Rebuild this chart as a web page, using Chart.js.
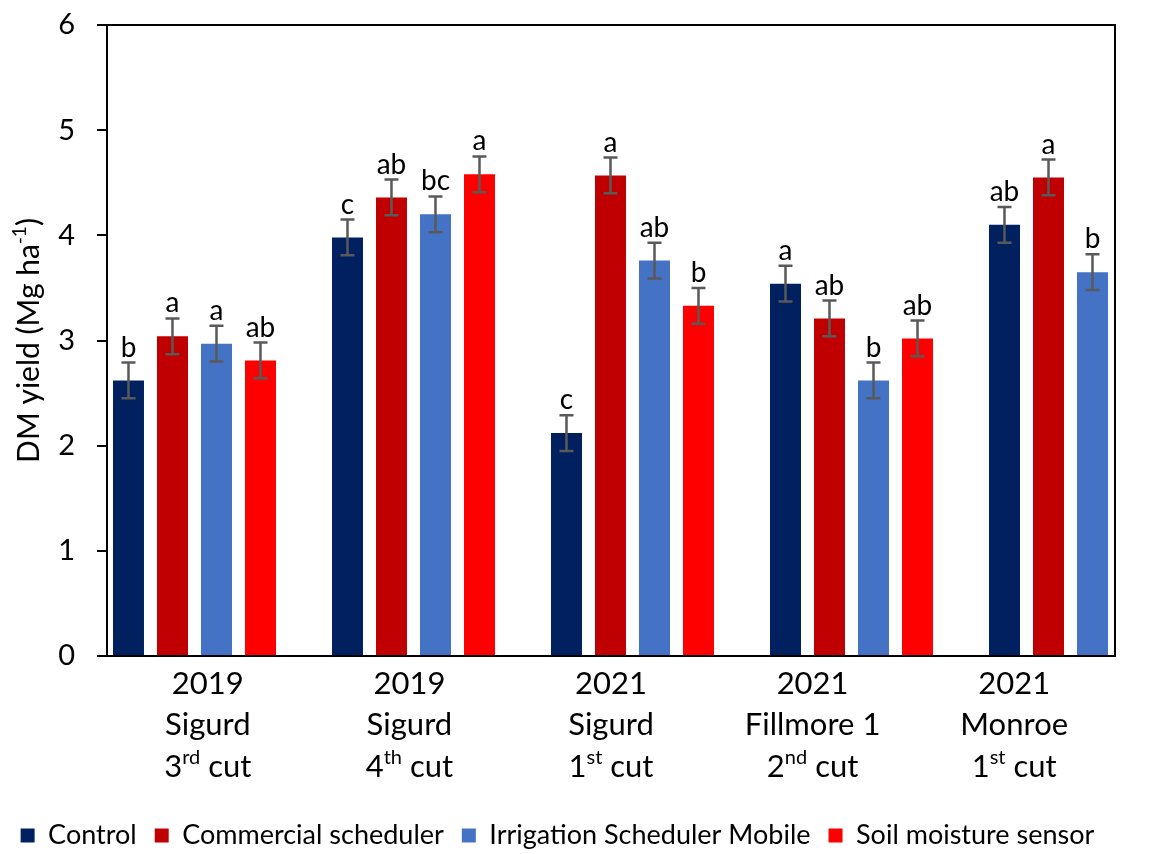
<!DOCTYPE html>
<html>
<head>
<meta charset="utf-8">
<script src="https://cdn.jsdelivr.net/npm/chart.js@4.4.0/dist/chart.umd.min.js"></script>
<style>
  body { margin: 0; background: #fff; }
  #wrap { width: 1150px; height: 854px; }
</style>
</head>
<body>
<div id="wrap"><canvas id="myChart" width="1150" height="854"></canvas></div>
<script>
// categories (three label lines, the cut number gets a superscript suffix)
const years = ["2019", "2019", "2021", "2021", "2021"];
const sites = ["Sigurd", "Sigurd", "Sigurd", "Fillmore 1", "Monroe"];
const cutNums = ["3", "4", "1", "2", "1"];
const cutSuffix = ["rd", "th", "st", "nd", "st"];

const seriesNames = ["Control", "Commercial scheduler", "Irrigation Scheduler Mobile", "Soil moisture sensor"];
const seriesColors = ["#002060", "#C00000", "#4472C4", "#FF0000"];

// DM yield, Mg ha-1
const control    = [2.62, 3.98, 2.12, 3.54, 4.10];
const commercial = [3.04, 4.36, 4.57, 3.21, 4.55];
const ism        = [2.97, 4.20, 3.76, 2.62, 3.65];
const sms        = [2.81, 4.58, 3.33, 3.02, null];

// error bars (+/-)
const controlErr    = [0.17, 0.17, 0.17, 0.17, 0.17];
const commercialErr = [0.17, 0.17, 0.17, 0.17, 0.17];
const ismErr        = [0.17, 0.17, 0.17, 0.17, 0.17];
const smsErr        = [0.17, 0.17, 0.17, 0.17, null];

// significance letters
const controlLetters    = ["b", "c", "c", "a", "ab"];
const commercialLetters = ["a", "ab", "a", "ab", "a"];
const ismLetters        = ["a", "bc", "ab", "b", "b"];
const smsLetters        = ["ab", "a", "b", "ab", null];

const yTicks = [0, 1, 2, 3, 4, 5, 6];

const seriesValues = [control, commercial, ism, sms];
const seriesErrors = [controlErr, commercialErr, ismErr, smsErr];
const seriesLetters = [controlLetters, commercialLetters, ismLetters, smsLetters];

Chart.defaults.font.family = "Lato";
Chart.defaults.color = "#000";

const extras = {
  id: "extras",
  afterDatasetsDraw(chart) {
    const ctx = chart.ctx;
    const ys = chart.scales.y;
    ctx.save();
    seriesValues.forEach((vals, di) => {
      const meta = chart.getDatasetMeta(di);
      vals.forEach((v, i) => {
        if (v === null) return;
        const e = seriesErrors[di][i];
        const bx = meta.data[i].x;
        const top = ys.getPixelForValue(v + e);
        const bot = ys.getPixelForValue(v - e);
        ctx.strokeStyle = "#595959";
        ctx.lineWidth = 2.5;
        ctx.beginPath();
        ctx.moveTo(bx, top); ctx.lineTo(bx, bot);
        ctx.moveTo(bx - 7, top); ctx.lineTo(bx + 7, top);
        ctx.moveTo(bx - 7, bot); ctx.lineTo(bx + 7, bot);
        ctx.stroke();
        ctx.fillStyle = "#000";
        ctx.font = "28px Lato";
        ctx.textAlign = "center";
        ctx.textBaseline = "alphabetic";
        ctx.fillText(seriesLetters[di][i], bx, top - 6);
      });
    });
    ctx.restore();
  },
  afterDraw(chart) {
    const ctx = chart.ctx;
    const a = chart.chartArea;
    ctx.save();
    // plot frame
    ctx.strokeStyle = "#000";
    ctx.lineWidth = 2;
    ctx.strokeRect(a.left, a.top, a.right - a.left, a.bottom - a.top);

    // category labels
    const xl = chart.scales.xl;
    ctx.fillStyle = "#000";
    ctx.textBaseline = "middle";
    years.forEach((yr, i) => {
      const cx = xl.getPixelForTick(i);
      const y0 = xl.top + 28;
      ctx.font = "31px Lato";
      ctx.textAlign = "center";
      ctx.fillText(yr, cx, y0);
      ctx.fillText(sites[i], cx, y0 + 41);
      const rest = " cut";
      const wNum = ctx.measureText(cutNums[i]).width;
      const wRest = ctx.measureText(rest).width;
      ctx.font = "20px Lato";
      const wSup = ctx.measureText(cutSuffix[i]).width;
      let x = cx - (wNum + wSup + wRest) / 2;
      ctx.textAlign = "left";
      ctx.font = "31px Lato";
      ctx.fillText(cutNums[i], x, y0 + 83);
      x += wNum;
      ctx.font = "20px Lato";
      ctx.fillText(cutSuffix[i], x, y0 + 83 - 9);
      x += wSup;
      ctx.font = "31px Lato";
      ctx.fillText(rest, x, y0 + 83);
    });

    // y axis title with superscript
    const t1 = "DM yield (Mg ha", t2 = "-1", t3 = ")";
    ctx.font = "30px Lato";
    const w1 = ctx.measureText(t1).width, w3 = ctx.measureText(t3).width;
    ctx.font = "19px Lato";
    const w2 = ctx.measureText(t2).width;
    ctx.translate(29, (a.top + a.bottom) / 2);
    ctx.rotate(-Math.PI / 2);
    let tx = -(w1 + w2 + w3) / 2;
    ctx.textAlign = "left";
    ctx.textBaseline = "middle";
    ctx.font = "30px Lato";
    ctx.fillText(t1, tx, 0); tx += w1;
    ctx.font = "19px Lato";
    ctx.fillText(t2, tx, -9); tx += w2;
    ctx.font = "30px Lato";
    ctx.fillText(t3, tx, 0);
    ctx.restore();
  }
};

new Chart("myChart", {
  type: "bar",
  data: {
    datasets: seriesNames.map((name, di) => ({
      label: name,
      backgroundColor: seriesColors[di],
      borderWidth: 0,
      categoryPercentage: 0.8037,
      barPercentage: 0.7045,
      data: seriesValues[di].map((v, i) => ({x: i, y: v}))
    }))
  },
  options: {
    responsive: false,
    animation: false,
    devicePixelRatio: 1,
    layout: { padding: { top: 25, right: 35, left: 0, bottom: -5 } },
    plugins: {
      legend: {
        position: "bottom",
        labels: {
          boxWidth: 14,
          boxHeight: 14,
          padding: 18,
          font: { size: 27 },
          color: "#000"
        }
      },
      tooltip: { enabled: false }
    },
    scales: {
      x: {
        type: "linear",
        display: false,
        offset: false,
        min: -0.3995,
        max: 4.2032,
        afterBuildTicks: s => { s.ticks = years.map((_, i) => ({value: i})); }
      },
      xl: {
        type: "category",
        labels: years,
        position: "bottom",
        offset: true,
        grid: { display: false },
        border: { display: false },
        ticks: { color: "rgba(0,0,0,0)", autoSkip: false, maxRotation: 0 },
        afterFit: s => { s.height = 148; }
      },
      y: {
        min: 0,
        max: 6,
        afterBuildTicks: s => { s.ticks = yTicks.map(v => ({value: v})); },
        border: { display: true, color: "#000", width: 2 },
        grid: { drawOnChartArea: false, color: "#000", lineWidth: 2, tickLength: 10 },
        ticks: { font: { size: 29 }, color: "#000", padding: 22 },
        afterFit: s => { s.width = 107; s.paddingTop = 0; s.paddingBottom = 0; }
      }
    }
  },
  plugins: [extras]
});
</script>
</body>
</html>
